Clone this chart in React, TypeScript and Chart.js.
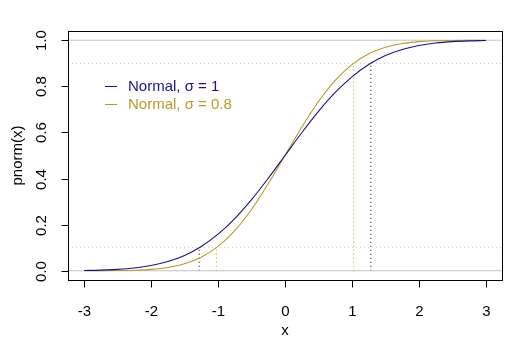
import React, { useEffect, useRef } from "react";
import { Chart, registerables } from "chart.js";

Chart.register(...registerables);

// x grid of the curves
const xValues = [
  -3, -2.75, -2.5, -2.25, -2, -1.75, -1.5, -1.25, -1, -0.75, -0.5, -0.25, 0,
  0.25, 0.5, 0.75, 1, 1.25, 1.5, 1.75, 2, 2.25, 2.5, 2.75, 3,
];
// pnorm(x), sigma = 1
const sigma1Values = [
  0.0013, 0.003, 0.0062, 0.0122, 0.0228, 0.0401, 0.0668, 0.1056, 0.1587,
  0.2266, 0.3085, 0.4013, 0.5, 0.5987, 0.6915, 0.7734, 0.8413, 0.8944, 0.9332,
  0.9599, 0.9772, 0.9878, 0.9938, 0.997, 0.9987,
];
// pnorm(x), sigma = 0.8
const sigma08Values = [
  0.0001, 0.0003, 0.0009, 0.0025, 0.0062, 0.0144, 0.0304, 0.0591, 0.1056,
  0.1743, 0.266, 0.3773, 0.5, 0.6227, 0.734, 0.8257, 0.8944, 0.9409, 0.9696,
  0.9856, 0.9938, 0.9975, 0.9991, 0.9997, 0.9999,
];

const xTicks = [-3, -2, -1, 0, 1, 2, 3];
const xTickLabels = ["-3", "-2", "-1", "0", "1", "2", "3"];
const yTicks = [0, 0.2, 0.4, 0.6, 0.8, 1.0];
const yTickLabels = ["0.0", "0.2", "0.4", "0.6", "0.8", "1.0"];

const boundLines = [0, 1];
const probLevels = [0.1, 0.9];
const quantilesSigma1 = [-1.2816, 1.2816];
const quantilesSigma08 = [-1.0253, 1.0253];

const legendLabels = ["Normal, \u03c3 = 1", "Normal, \u03c3 = 0.8"];
const xTitle = "x";
const yTitle = "pnorm(x)";

const xMin = -3.24;
const xMax = 3.24;
const yMin = -0.04;
const yMax = 1.04;

const BLUE = "#14148c";
const GOLD = "#bb9a24";
const FONT = '15px "Liberation Sans", Arial, sans-serif';

const axesPlugin = {
  id: "rAxes",
  afterDraw(chart: any) {
    const ctx = chart.ctx as CanvasRenderingContext2D;
    const { left, right, top, bottom } = chart.chartArea;
    const xs = chart.scales.x;
    const ys = chart.scales.y;
    ctx.save();
    ctx.strokeStyle = "#000";
    ctx.lineWidth = 1;
    // box
    ctx.strokeRect(Math.round(left) + 0.5, Math.round(top) + 0.5, Math.round(right - left), Math.round(bottom - top));
    ctx.fillStyle = "#000";
    ctx.font = FONT;
    // x ticks
    ctx.textAlign = "center";
    ctx.textBaseline = "alphabetic";
    xTicks.forEach((v, i) => {
      const px = Math.round(xs.getPixelForValue(v)) + 0.5;
      ctx.beginPath();
      ctx.moveTo(px, Math.round(bottom) + 0.5);
      ctx.lineTo(px, Math.round(bottom) + 7.5);
      ctx.stroke();
      ctx.fillText(xTickLabels[i], px, 315.5);
    });
    ctx.fillText(xTitle, (left + right) / 2, 335);
    // y ticks
    yTicks.forEach((v, i) => {
      const py = Math.round(ys.getPixelForValue(v)) + 0.5;
      ctx.beginPath();
      ctx.moveTo(Math.round(left) + 0.5, py);
      ctx.lineTo(Math.round(left) - 6.5, py);
      ctx.stroke();
      ctx.save();
      ctx.translate(46, py);
      ctx.rotate(-Math.PI / 2);
      ctx.fillText(yTickLabels[i], 0, 0);
      ctx.restore();
    });
    ctx.save();
    ctx.translate(22, (top + bottom) / 2);
    ctx.rotate(-Math.PI / 2);
    ctx.fillText(yTitle, 0, 0);
    ctx.restore();
    // legend
    const colors = [BLUE, GOLD];
    legendLabels.forEach((lab, i) => {
      const cy = 86.5 + i * 18;
      ctx.strokeStyle = colors[i];
      ctx.beginPath();
      ctx.moveTo(105, cy);
      ctx.lineTo(117, cy);
      ctx.stroke();
      ctx.fillStyle = colors[i];
      ctx.textAlign = "left";
      ctx.fillText(lab, 128, cy + 4.5);
    });
    ctx.restore();
  },
};

export default function App() {
  const ref = useRef<HTMLCanvasElement | null>(null);
  useEffect(() => {
    document.body.style.margin = "0";
    const canvas = ref.current;
    if (!canvas) return;
    const greySolid = boundLines.map((b) => ({
      type: "line" as const,
      data: [
        { x: xMin, y: b },
        { x: xMax, y: b },
      ],
      borderColor: "#c4c4c4",
      borderWidth: 1,
      pointRadius: 0,
      order: 2,
    }));
    const greyDotted = probLevels.map((p) => ({
      type: "line" as const,
      data: [
        { x: xMin, y: p },
        { x: xMax, y: p },
      ],
      borderColor: "#c2c2c2",
      borderWidth: 1,
      borderDash: [1, 3],
      pointRadius: 0,
      order: 2,
    }));
    const vert1 = quantilesSigma1.map((q, i) => ({
      type: "line" as const,
      data: [
        { x: q, y: 0 },
        { x: q, y: probLevels[i] },
      ],
      borderColor: "#000",
      borderWidth: 1,
      borderDash: [1, 3],
      pointRadius: 0,
      order: 2,
    }));
    const vert08 = quantilesSigma08.map((q, i) => ({
      type: "line" as const,
      data: [
        { x: q, y: 0 },
        { x: q, y: probLevels[i] },
      ],
      borderColor: GOLD,
      borderWidth: 1,
      borderDash: [1, 3],
      pointRadius: 0,
      order: 2,
    }));
    const chart = new Chart(canvas, {
      type: "line",
      data: {
        datasets: [
          {
            label: legendLabels[0],
            data: xValues.map((x, i) => ({ x, y: sigma1Values[i] })),
            borderColor: BLUE,
            borderWidth: 1.1,
            pointRadius: 0,
            cubicInterpolationMode: "monotone",
            order: 0,
          },
          {
            label: legendLabels[1],
            data: xValues.map((x, i) => ({ x, y: sigma08Values[i] })),
            borderColor: GOLD,
            borderWidth: 1.1,
            pointRadius: 0,
            cubicInterpolationMode: "monotone",
            order: 1,
          },
          ...greySolid,
          ...greyDotted,
          ...vert1,
          ...vert08,
        ] as any,
      },
      options: {
        animation: false,
        responsive: false,
        maintainAspectRatio: false,
        layout: { padding: { left: 68, top: 31, right: 19, bottom: 72 } },
        scales: {
          x: { type: "linear", min: xMin, max: xMax, display: false },
          y: { type: "linear", min: yMin, max: yMax, display: false },
        },
        plugins: {
          legend: { display: false },
          tooltip: { enabled: false },
        },
        events: [],
      },
      plugins: [axesPlugin],
    });
    return () => chart.destroy();
  }, []);
  return (
    <div style={{ width: 521, height: 352 }}>
      <canvas ref={ref} width={521} height={352} style={{ display: "block" }} />
    </div>
  );
}
